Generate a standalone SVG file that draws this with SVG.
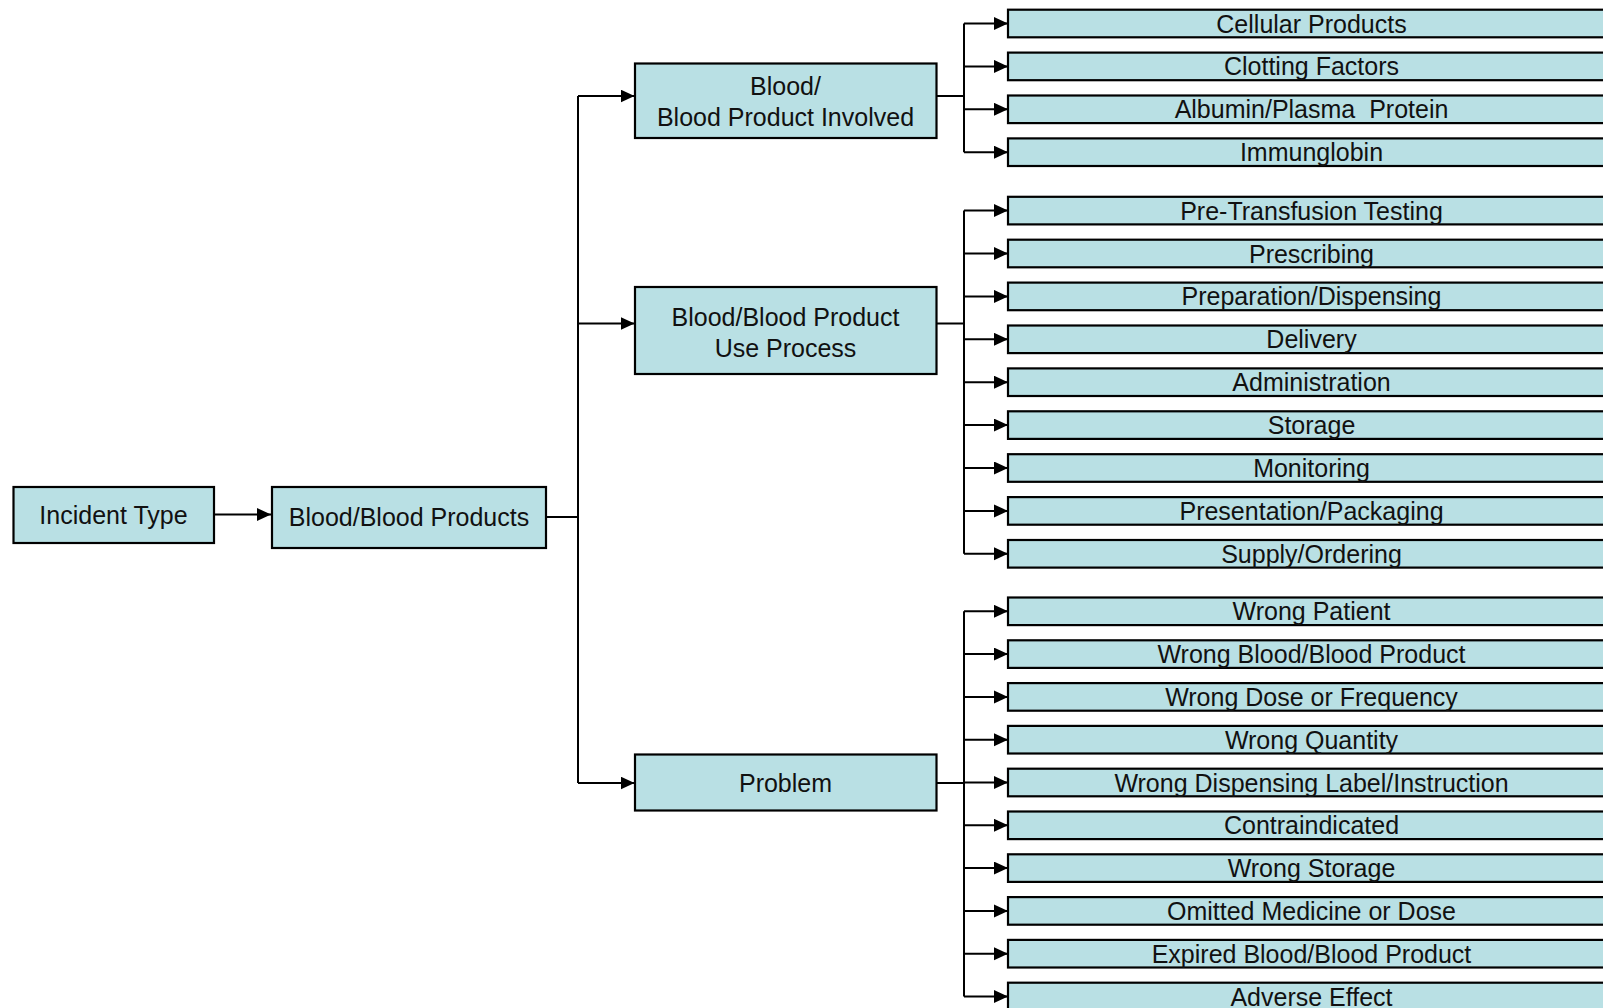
<svg xmlns="http://www.w3.org/2000/svg" width="1603" height="1008" viewBox="0 0 1603 1008">
<style>
.box{fill:#B9E0E4;stroke:#000;stroke-width:2.2}
.t{font-family:"Liberation Sans",Arial,sans-serif;font-size:25px;fill:#111;text-anchor:middle;white-space:pre}
.c{fill:none;stroke:#000;stroke-width:2}
</style>
<defs>
<marker id="ah" markerUnits="userSpaceOnUse" markerWidth="16" markerHeight="14" refX="14" refY="6.5" orient="auto">
<path d="M0,0 L14,6.5 L0,13 Z" fill="#000"/>
</marker>
</defs>
<rect width="1603" height="1008" fill="#fff"/>
<g id="connectors">
<path class="c" d="M214,514.5 H271" marker-end="url(#ah)"/>
<path class="c" d="M546,517 H578 M578,96 V783"/>
<path class="c" d="M578,96 H634.5" marker-end="url(#ah)"/>
<path class="c" d="M578,323.5 H634.5" marker-end="url(#ah)"/>
<path class="c" d="M578,783 H634.5" marker-end="url(#ah)"/>
<path class="c" d="M936.5,96 H964 M964,23.5 V152.2"/>
<path class="c" d="M936.5,323.5 H964 M964,210.6 V553.8"/>
<path class="c" d="M936.5,783 H964 M964,611.3 V996.5"/>
<g marker-end="url(#ah)">
<path class="c" d="M964,23.5 H1008"/>
<path class="c" d="M964,66.4 H1008"/>
<path class="c" d="M964,109.3 H1008"/>
<path class="c" d="M964,152.2 H1008"/>
<path class="c" d="M964,210.6 H1008"/>
<path class="c" d="M964,253.5 H1008"/>
<path class="c" d="M964,296.4 H1008"/>
<path class="c" d="M964,339.3 H1008"/>
<path class="c" d="M964,382.2 H1008"/>
<path class="c" d="M964,425.1 H1008"/>
<path class="c" d="M964,468 H1008"/>
<path class="c" d="M964,510.9 H1008"/>
<path class="c" d="M964,553.8 H1008"/>
<path class="c" d="M964,611.3 H1008"/>
<path class="c" d="M964,654.1 H1008"/>
<path class="c" d="M964,696.9 H1008"/>
<path class="c" d="M964,739.7 H1008"/>
<path class="c" d="M964,782.5 H1008"/>
<path class="c" d="M964,825.3 H1008"/>
<path class="c" d="M964,868.1 H1008"/>
<path class="c" d="M964,910.9 H1008"/>
<path class="c" d="M964,953.7 H1008"/>
<path class="c" d="M964,996.5 H1008"/>
</g>
</g>
<g id="incident-type"><rect class="box" x="13.5" y="487" width="200.5" height="56"/><text class="t" x="113.5" y="524">Incident Type</text></g>
<g id="blood-products"><rect class="box" x="272" y="487" width="274" height="61"/><text class="t" x="409" y="526">Blood/Blood Products</text></g>
<g id="involved"><rect class="box" x="635" y="63.5" width="301.5" height="74.5"/><text class="t" x="785.5" y="95">Blood/</text><text class="t" x="785.5" y="125.5">Blood Product Involved</text></g>
<g id="use-process"><rect class="box" x="635" y="287" width="301.5" height="87"/><text class="t" x="785.5" y="326">Blood/Blood Product</text><text class="t" x="785.5" y="356.5">Use Process</text></g>
<g id="problem"><rect class="box" x="635" y="754.5" width="301.5" height="56"/><text class="t" x="785.5" y="792">Problem</text></g>
<g id="cellular"><rect class="box" x="1008" y="9.7" width="620" height="27.6"/><text class="t" x="1311.5" y="32.5">Cellular Products</text></g>
<g id="clotting"><rect class="box" x="1008" y="52.6" width="620" height="27.6"/><text class="t" x="1311.5" y="75.4">Clotting Factors</text></g>
<g id="albumin"><rect class="box" x="1008" y="95.5" width="620" height="27.6"/><text class="t" x="1311.5" y="118.3">Albumin/Plasma  Protein</text></g>
<g id="immunglobin"><rect class="box" x="1008" y="138.4" width="620" height="27.6"/><text class="t" x="1311.5" y="161.2">Immunglobin</text></g>
<g id="pretransfusion"><rect class="box" x="1008" y="196.8" width="620" height="27.6"/><text class="t" x="1311.5" y="219.6">Pre-Transfusion Testing</text></g>
<g id="prescribing"><rect class="box" x="1008" y="239.7" width="620" height="27.6"/><text class="t" x="1311.5" y="262.5">Prescribing</text></g>
<g id="preparation"><rect class="box" x="1008" y="282.6" width="620" height="27.6"/><text class="t" x="1311.5" y="305.4">Preparation/Dispensing</text></g>
<g id="delivery"><rect class="box" x="1008" y="325.5" width="620" height="27.6"/><text class="t" x="1311.5" y="348.3">Delivery</text></g>
<g id="administration"><rect class="box" x="1008" y="368.4" width="620" height="27.6"/><text class="t" x="1311.5" y="391.2">Administration</text></g>
<g id="storage"><rect class="box" x="1008" y="411.3" width="620" height="27.6"/><text class="t" x="1311.5" y="434.1">Storage</text></g>
<g id="monitoring"><rect class="box" x="1008" y="454.2" width="620" height="27.6"/><text class="t" x="1311.5" y="477">Monitoring</text></g>
<g id="presentation"><rect class="box" x="1008" y="497.1" width="620" height="27.6"/><text class="t" x="1311.5" y="519.9">Presentation/Packaging</text></g>
<g id="supply"><rect class="box" x="1008" y="540" width="620" height="27.6"/><text class="t" x="1311.5" y="562.8">Supply/Ordering</text></g>
<g id="wrong-patient"><rect class="box" x="1008" y="597.5" width="620" height="27.6"/><text class="t" x="1311.5" y="620.3">Wrong Patient</text></g>
<g id="wrong-blood"><rect class="box" x="1008" y="640.3" width="620" height="27.6"/><text class="t" x="1311.5" y="663.1">Wrong Blood/Blood Product</text></g>
<g id="wrong-dose"><rect class="box" x="1008" y="683.1" width="620" height="27.6"/><text class="t" x="1311.5" y="705.9">Wrong Dose or Frequency</text></g>
<g id="wrong-quantity"><rect class="box" x="1008" y="725.9" width="620" height="27.6"/><text class="t" x="1311.5" y="748.7">Wrong Quantity</text></g>
<g id="wrong-label"><rect class="box" x="1008" y="768.7" width="620" height="27.6"/><text class="t" x="1311.5" y="791.5">Wrong Dispensing Label/Instruction</text></g>
<g id="contraindicated"><rect class="box" x="1008" y="811.5" width="620" height="27.6"/><text class="t" x="1311.5" y="834.3">Contraindicated</text></g>
<g id="wrong-storage"><rect class="box" x="1008" y="854.3" width="620" height="27.6"/><text class="t" x="1311.5" y="877.1">Wrong Storage</text></g>
<g id="omitted"><rect class="box" x="1008" y="897.1" width="620" height="27.6"/><text class="t" x="1311.5" y="919.9">Omitted Medicine or Dose</text></g>
<g id="expired"><rect class="box" x="1008" y="939.9" width="620" height="27.6"/><text class="t" x="1311.5" y="962.7">Expired Blood/Blood Product</text></g>
<g id="adverse"><rect class="box" x="1008" y="982.7" width="620" height="27.6"/><text class="t" x="1311.5" y="1005.5">Adverse Effect</text></g>
</svg>
